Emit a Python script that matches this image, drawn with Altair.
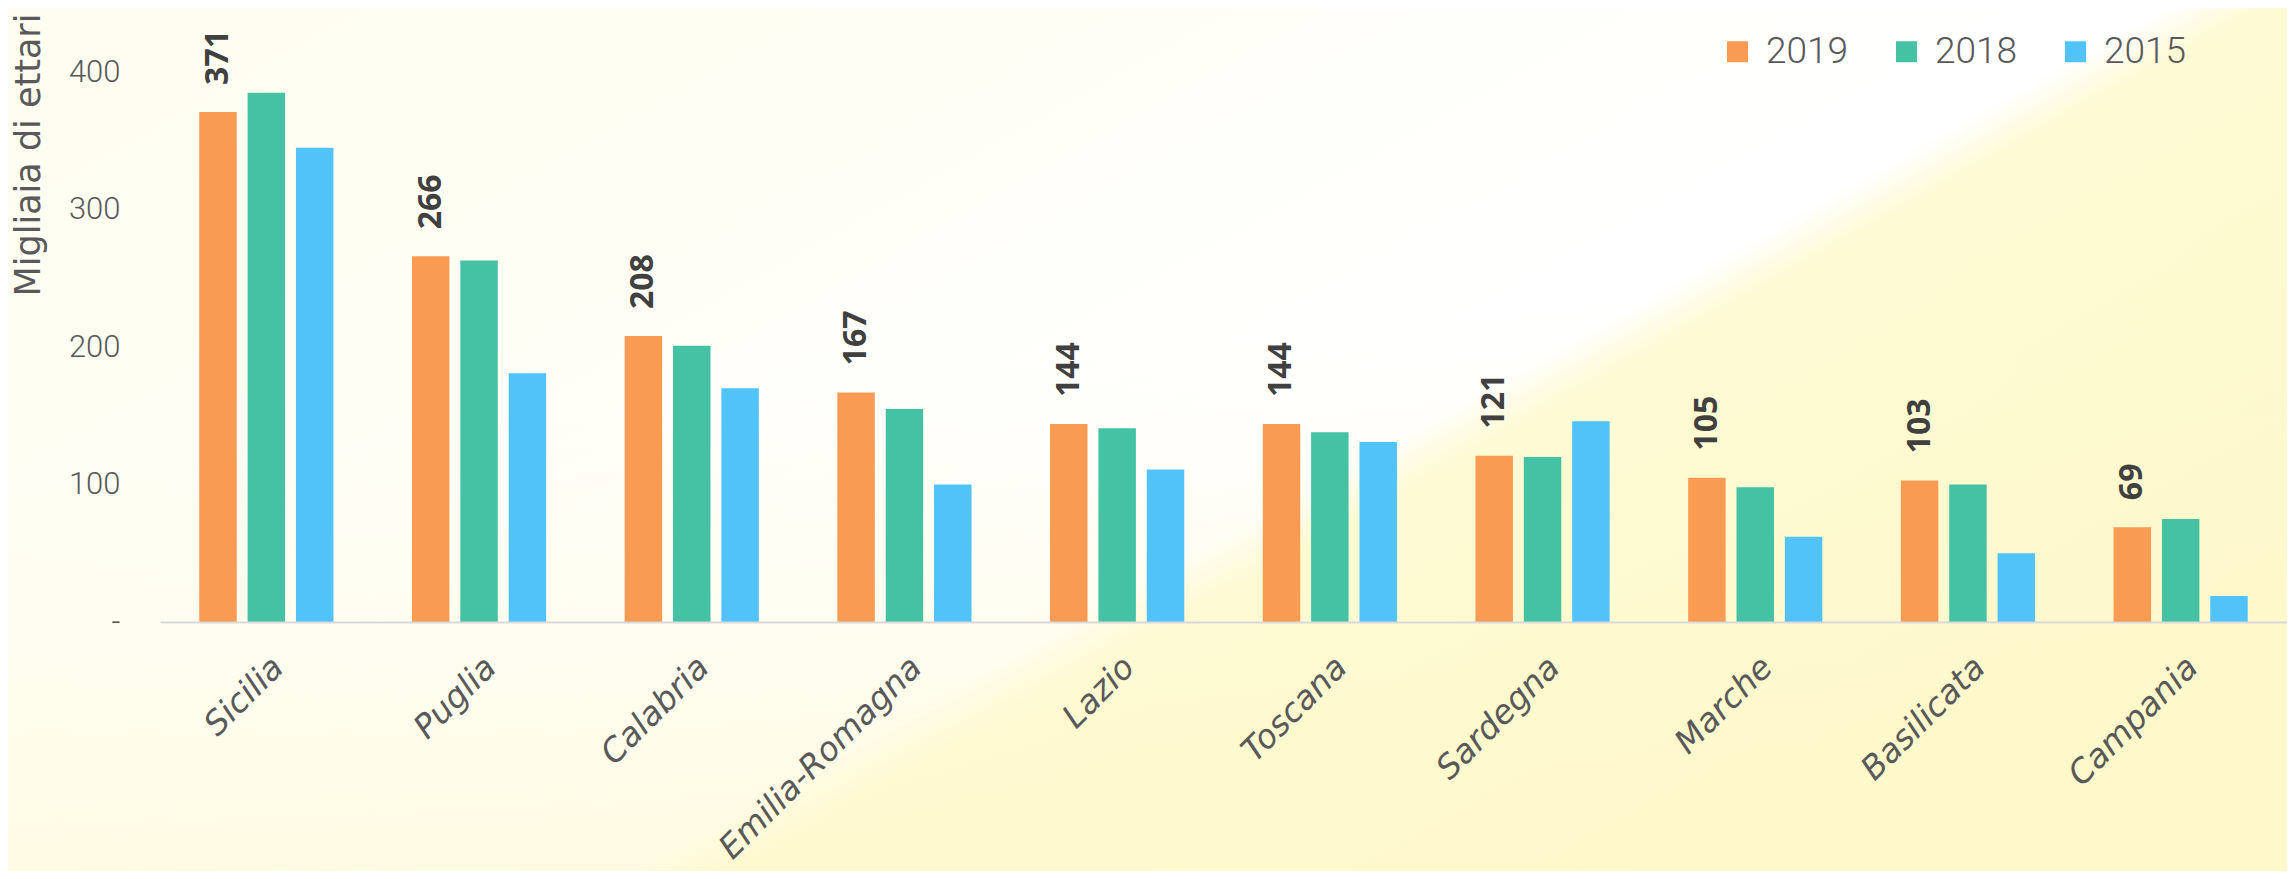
import altair as alt
import pandas as pd

regioni = ['Sicilia', 'Puglia', 'Calabria', 'Emilia-Romagna', 'Lazio',
           'Toscana', 'Sardegna', 'Marche', 'Basilicata', 'Campania']
anni = ['2019', '2018', '2015']
v2019 = [371, 266, 208, 167, 144, 144, 121, 105, 103, 69]
v2018 = [385, 263, 201, 155, 141, 138, 120, 98, 100, 75]
v2015 = [345, 181, 170, 100, 111, 131, 146, 62, 50, 19]
colori = ['#F99B53', '#45C1A3', '#52C3F9']
tick_valori = [0, 100, 200, 300, 400]

rows = []
for i, r in enumerate(regioni):
    for a, vals in zip(anni, [v2019, v2018, v2015]):
        rows.append({'regione': r, 'anno': a, 'valore': vals[i]})
df = pd.DataFrame(rows)
lab = df[df['anno'] == '2019']

W, H = 2127, 605
PL, PT, PB = 152, 9, 249

x_enc = alt.X('regione:N', sort=regioni,
              scale=alt.Scale(paddingInner=0.318, paddingOuter=0.159),
              axis=alt.Axis(title=None, labelAngle=-45, labelAlign='right',
                            labelBaseline='middle', labelFont='DejaVu Sans',
                            labelFontStyle='italic', labelFontSize=33,
                            labelColor='#595959', labelPadding=40, labelOffset=12,
                            labelLimit=600, ticks=False, domainColor='#d9d9d9',
                            domainWidth=2, zindex=1))
xo_enc = alt.XOffset('anno:N', sort=anni,
                     scale=alt.Scale(paddingInner=0.225, paddingOuter=0.1125))
y_enc = alt.Y('valore:Q', scale=alt.Scale(domain=[0, 440], nice=False),
              axis=alt.Axis(title='Migliaia di ettari', values=tick_valori,
                            labelExpr="datum.value == 0 ? '-\u00a0\u00a0' : datum.label",
                            grid=False, domain=False, ticks=False, labelPadding=40,
                            labelFont='Roboto', labelFontWeight=300, labelFontSize=31,
                            labelColor='#595959', titleFont='DejaVu Sans',
                            titleFontSize=35, titleFontWeight='normal',
                            titleColor='#595959', titleAngle=270, titleAlign='right',
                            titleBaseline='alphabetic', titleX=-121, titleY=-4,
                            zindex=1))

bg = alt.Chart(pd.DataFrame({'k': [0]})).mark_rect(
    fill=alt.LinearGradient(
        gradient='linear', x1=0, y1=0, x2=0.9945, y2=0.669,
        stops=[alt.GradientStop(color='#fffef0', offset=0),
               alt.GradientStop(color='#fffef4', offset=0.3),
               alt.GradientStop(color='#fffffb', offset=0.5),
               alt.GradientStop(color='#ffffff', offset=0.62),
               alt.GradientStop(color='#ffffff', offset=0.655),
               alt.GradientStop(color='#fefad4', offset=0.685),
               alt.GradientStop(color='#fdf8c8', offset=1)])
).encode(x=alt.value(-PL), x2=alt.value(W), y=alt.value(-PT), y2=alt.value(H + PB))

bg2 = alt.Chart(pd.DataFrame({'k': [0]})).mark_rect(
    fill=alt.LinearGradient(
        gradient='linear', x1=0, y1=0, x2=0.3, y2=1,
        stops=[alt.GradientStop(color='rgba(255,250,215,0)', offset=0),
               alt.GradientStop(color='rgba(255,250,215,0)', offset=0.5),
               alt.GradientStop(color='rgba(255,248,205,0.6)', offset=1)])
).encode(x=alt.value(-PL), x2=alt.value(W), y=alt.value(-PT), y2=alt.value(H + PB))

bars = alt.Chart(df).mark_bar().encode(
    x=x_enc, xOffset=xo_enc, y=y_enc,
    color=alt.Color('anno:N', sort=anni,
                    scale=alt.Scale(domain=anni, range=colori),
                    legend=alt.Legend(title=None, orient='none', legendX=1559,
                                      legendY=16, direction='horizontal',
                                      symbolType='square', symbolSize=441,
                                      symbolStrokeWidth=0, labelFont='Roboto',
                                      labelFontWeight=300, labelFontSize=37,
                                      labelColor='#595959', labelOffset=10,
                                      columnPadding=39, padding=0, zindex=1))
)

text = alt.Chart(lab).mark_text(
    angle=270, align='left', baseline='middle', dx=27,
    font='Open Sans', fontWeight='bold', fontSize=32, color='#404040'
).encode(x=x_enc, xOffset=xo_enc, y=y_enc, text='valore:Q')

chart = alt.layer(bg, bg2, bars, text).properties(
    width=W, height=H, background='#fffdee',
    autosize=alt.AutoSizeParams(type='none'),
    padding={'left': PL, 'top': PT, 'right': 0, 'bottom': PB}
).configure_view(stroke=None)

chart.save('out.html', embed_options={'renderer': 'svg', 'actions': False})
